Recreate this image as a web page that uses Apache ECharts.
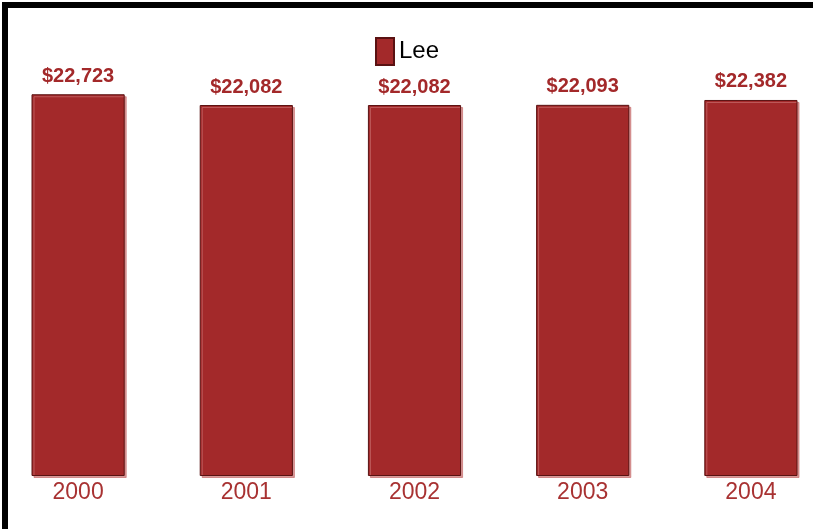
<!DOCTYPE html>
<html>
<head>
<meta charset="utf-8">
<script src="https://cdn.jsdelivr.net/npm/echarts@6/dist/echarts.min.js"></script>
<style>
html,body{margin:0;padding:0;background:#fff;overflow:hidden;width:813px;height:529px;position:relative;}
#chart{position:absolute;left:-6px;top:0;width:841px;height:529px;}
</style>
</head>
<body>
<div id="chart"></div>
<script>
const categories = ['2000', '2001', '2002', '2003', '2004'];
const seriesName = 'Lee';
const values = [22723, 22082, 22082, 22093, 22382];

const chart = echarts.init(document.getElementById('chart'), null, {renderer: 'canvas'});
const barColor = '#A3292A';
chart.setOption({
  animation: false,
  backgroundColor: '#fff',
  legend: {
    data: [seriesName],
    left: 376,
    top: 32,
    itemWidth: 18,
    itemHeight: 27,
    itemGap: 5,
    icon: 'rect',
    textStyle: {color: '#000', fontSize: 24, fontFamily: 'Liberation Sans, Arial, sans-serif'}
  },
  grid: {left: 0, right: 0, top: 56, bottom: 53, containLabel: false},
  xAxis: {
    type: 'category',
    data: categories,
    axisLine: {show: false},
    axisTick: {show: false},
    axisLabel: {color: '#A83232', fontSize: 23, margin: 5, fontFamily: 'Liberation Sans, Arial, sans-serif'}
  },
  yAxis: {
    type: 'value', min: 0, max: 25000, show: false, splitLine: {show: false}
  },
  series: [{
    name: seriesName,
    type: 'bar',
    data: values,
    barWidth: '55.4%',
    itemStyle: {
      color: barColor,
      borderColor: '#5a1212',
      borderWidth: 1,
      shadowColor: 'rgba(200,110,110,0.7)',
      shadowOffsetX: 2,
      shadowOffsetY: 2,
      shadowBlur: 0
    },
    label: {
      show: true,
      position: 'top',
      distance: 8,
      color: '#A3292A',
      fontWeight: 'bold',
      fontSize: 20,
      fontFamily: 'Liberation Sans, Arial, sans-serif',
      formatter: p => '$' + p.value.toLocaleString('en-US')
    }
  }],
  graphic: [
    {type: 'rect', shape: {x: 8, y: 2, width: 833, height: 6}, style: {fill: '#000'}, silent: true},
    {type: 'rect', shape: {x: 8, y: 2, width: 6, height: 527}, style: {fill: '#000'}, silent: true}
  ]
});
</script>
</body>
</html>
